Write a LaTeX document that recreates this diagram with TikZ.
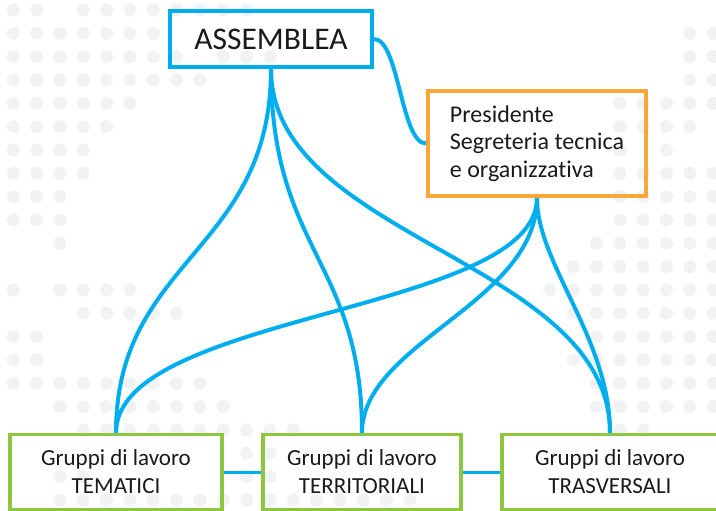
\documentclass[tikz,border=0pt]{standalone}
\usepackage{fontspec}
\setmainfont{Carlito}[Ligatures=NoCommon]
\definecolor{lineblue}{RGB}{0,174,239}
\definecolor{boxorange}{RGB}{250,166,56}
\definecolor{boxgreen}{RGB}{141,198,63}
\definecolor{dotgrey}{RGB}{241,242,244}
\definecolor{txt}{RGB}{26,26,26}
\pgfdeclarelayer{bg}
\pgfsetlayers{bg,main}
\begin{document}
\begin{tikzpicture}[x=1pt,y=-1pt,
  link/.style={draw=lineblue, line width=4pt},
  thinlink/.style={draw=lineblue, line width=3pt},
  asmbox/.style={draw=lineblue, line width=4pt, minimum width=202pt, minimum height=56pt, inner sep=0pt, font=\fontsize{31.5}{37}\selectfont, text=txt},
  prebox/.style={draw=boxorange, line width=4pt, minimum width=218pt, minimum height=105pt, inner sep=0pt, align=left, font=\fontsize{24}{27.5}\selectfont, text=txt},
  grpbox/.style={draw=boxgreen, line width=3.5pt, minimum height=75pt, inner sep=0pt, align=center, font=\fontsize{23}{28}\selectfont, text=txt},
  bgdot/.style={fill=dotgrey}
]
\useasboundingbox (0,0) rectangle (716,511);
\clip (0,0) rectangle (716,511);
\begin{pgfonlayer}{bg}
\foreach \j/\is in {
 0/{0,1,3,4,5,6,7,8,9,10},
 1/{0,1,2,3,4,5,6,29,30},
 2/{0,1,2,3,4,5,6,7,9,10,11,29,30},
 3/{0,1,2,3,4,5,6,7,8,29,30},
 4/{0,1,2,3,4,5,26,27,28,29,30},
 5/{0,1,2,3,4,26,27,28,29},
 6/{0,1,2,3,26,28},
 7/{0,1,2,3,26,27,28,29,30},
 8/{0,1,2,26,27,28,29,30},
 9/{0,1,2,26,27,28,29,30},
 10/{2,25,26,27,28,29,30},
 11/{24,25,26,27,28,29,30},
 12/{0,2,3,4,5,23,24,25,26,27,28,29,30},
 13/{3,4,5,6,7,24,25,26,27,28,29,30},
 14/{0,1,25,26,27,28,29,30},
 15/{0,1,24,25,26,27,28,29,30},
 16/{0,1,2,3,4,5,6,7,8,25,26,27,28,29,30},
 17/{2,3,4,5,6,7,8,9,25,26,27,28,29,30},
 18/{3,4,5,6,7,8,9,10,11,12,26,27},
 19/{10,11},
 20/{2,3,10,11},
 21/{2,3,4,5,6,7,8,9,10,11,12,13,14,15,16,17}}{
  \foreach \i in \is {
    \fill[bgdot] ({13.3+23.33*\i},{10+23.33*\j}) circle[radius=6.5pt];
  }
}
\end{pgfonlayer}

\node[asmbox] (asm) at (271,39) {ASSEMBLEA};
\node[prebox] (pre) at (537,143.5) {Presidente\\Segreteria tecnica\\e organizzativa};
\node[grpbox, minimum width=212pt] (tem) at (116,472) {Gruppi di lavoro\\TEMATICI};
\node[grpbox, minimum width=198pt] (ter) at (362,472) {Gruppi di lavoro\\TERRITORIALI};
\node[grpbox, minimum width=216pt] (tra) at (610,472) {Gruppi di lavoro\\TRASVERSALI};

\begin{pgfonlayer}{bg}
\draw[link] (asm.east) .. controls +(25,0) and +(-25,0) .. (pre.west);
\draw[link] (asm.south) .. controls +(0,183) and +(0,-174) .. (tem.north);
\draw[link] (asm.south) .. controls +(0,183) and +(0,-172) .. (ter.north);
\draw[link] (asm.south) .. controls +(0,170) and +(0,-172) .. (tra.north);
\draw[link] (pre.south) .. controls +(0,115) and +(0,-120) .. (tem.north);
\draw[link] (pre.south) .. controls +(0,105) and +(0,-90) .. (ter.north);
\draw[link] (pre.south) .. controls +(0,66) and +(0,-94) .. (tra.north);
\draw[thinlink] (tem.east) -- (ter.west);
\draw[thinlink] (ter.east) -- (tra.west);
\end{pgfonlayer}
\end{tikzpicture}
\end{document}
